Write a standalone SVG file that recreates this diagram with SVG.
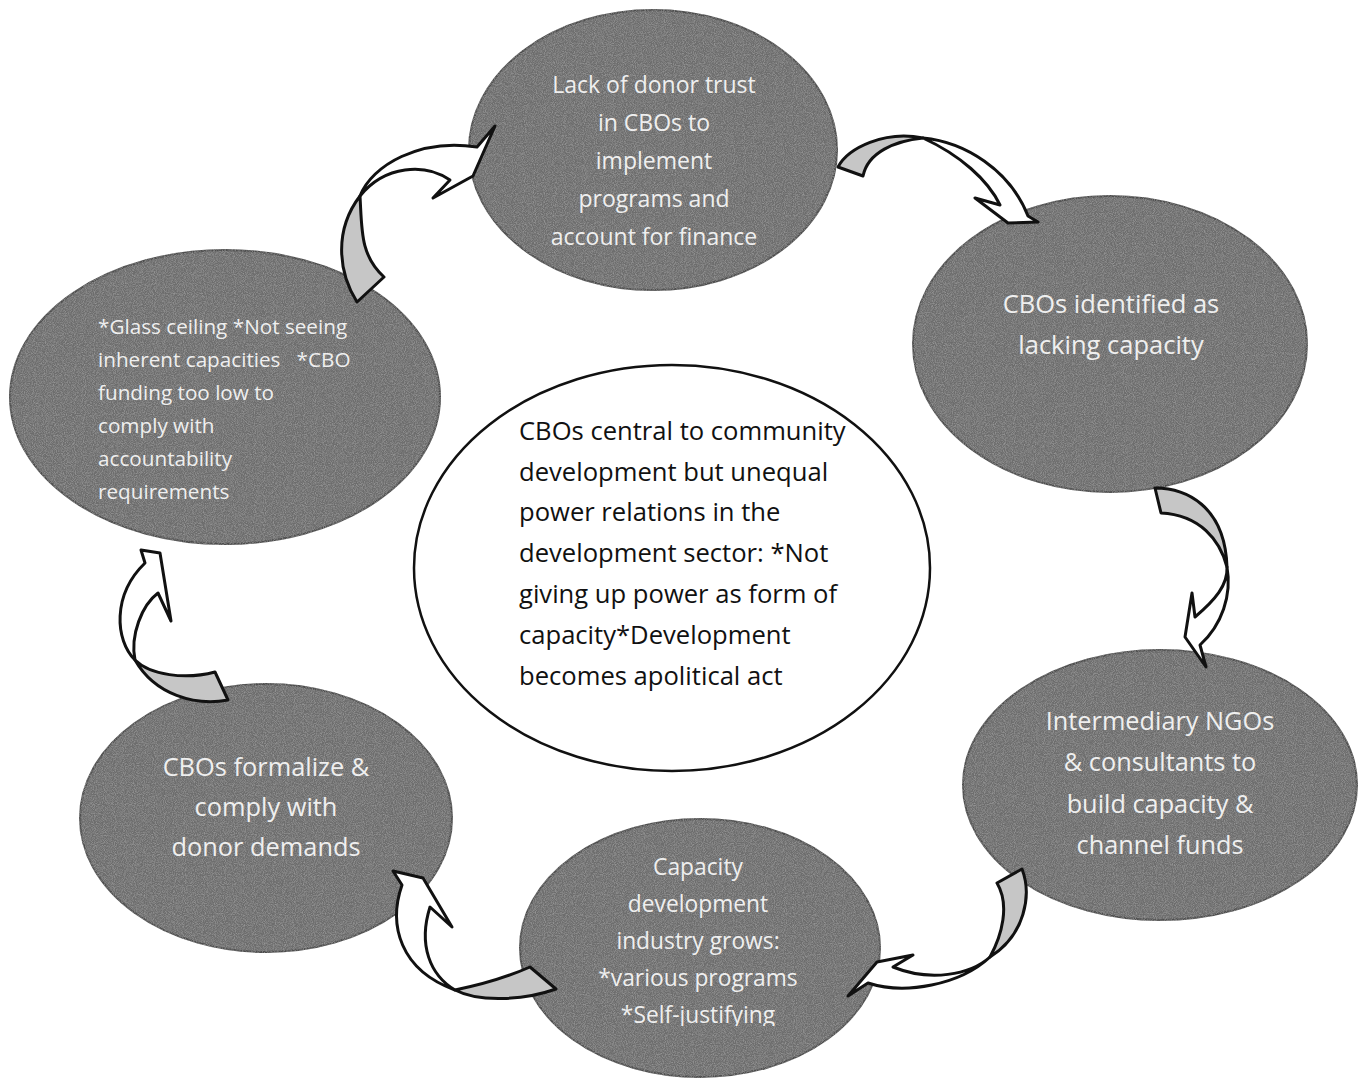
<svg xmlns="http://www.w3.org/2000/svg" width="1363" height="1078" viewBox="0 0 1363 1078">
<style>
.node{fill:#6d6d6d;stroke:#4d4d4d;stroke-width:2;filter:url(#grain)}
.core{fill:#ffffff;stroke:#111111;stroke-width:2.5}
.lt{font-family:"Open Sans","Liberation Sans",sans-serif;fill:#efefef;text-anchor:middle}
.lc{font-family:"Open Sans","Liberation Sans",sans-serif;fill:#111111}
.body{fill:#ffffff;stroke:#111111;stroke-width:3;stroke-linejoin:round}
.tail{fill:#c6c6c6;stroke:#111111;stroke-width:3;stroke-linejoin:round}
</style>
<defs>
<filter id="grain" x="-2%" y="-2%" width="104%" height="104%">
<feTurbulence type="fractalNoise" baseFrequency="1.1" numOctaves="1" seed="4" result="n"/>
<feColorMatrix in="n" type="matrix" values="0 0 0 0 0.55  0 0 0 0 0.55  0 0 0 0 0.55  0.9 0 0 0 -0.35" result="speck"/>
<feComposite in="speck" in2="SourceGraphic" operator="in" result="s2"/>
<feMerge><feMergeNode in="SourceGraphic"/><feMergeNode in="s2"/></feMerge>
</filter>
<clipPath id="cutBottom"><rect x="0" y="0" width="1363" height="1026"/></clipPath>
</defs>
<rect width="1363" height="1078" fill="#ffffff"/>

<g id="node-donor-trust">
<ellipse class="node" cx="653" cy="150" rx="184" ry="140"/>
<text class="lt" font-size="23"><tspan x="654" y="93">Lack of donor trust</tspan><tspan x="654" y="131">in CBOs to</tspan><tspan x="654" y="169">implement</tspan><tspan x="654" y="207">programs and</tspan><tspan x="654" y="245">account for finance</tspan></text>
</g>

<g id="node-lacking-capacity">
<ellipse class="node" cx="1110" cy="344" rx="197" ry="148"/>
<text class="lt" font-size="25.5"><tspan x="1111" y="313">CBOs identified as</tspan><tspan x="1111" y="354">lacking capacity</tspan></text>
</g>

<g id="node-glass-ceiling">
<ellipse class="node" cx="225" cy="397" rx="215" ry="147"/>
<text class="lt" font-size="20.7" style="text-anchor:start;white-space:pre" xml:space="preserve"><tspan x="98" y="334">*Glass ceiling *Not seeing</tspan><tspan x="98" y="367">inherent capacities   *CBO</tspan><tspan x="98" y="400">funding too low to</tspan><tspan x="98" y="433">comply with</tspan><tspan x="98" y="466">accountability</tspan><tspan x="98" y="499">requirements</tspan></text>
</g>

<g id="node-intermediary">
<ellipse class="node" cx="1160" cy="785" rx="197" ry="135"/>
<text class="lt" font-size="25.3"><tspan x="1160" y="730">Intermediary NGOs</tspan><tspan x="1160" y="771">&amp; consultants to</tspan><tspan x="1160" y="813">build capacity &amp;</tspan><tspan x="1160" y="854">channel funds</tspan></text>
</g>

<g id="node-industry">
<ellipse class="node" cx="700" cy="948" rx="180" ry="129"/>
<text class="lt" font-size="22.8"><tspan x="698" y="875">Capacity</tspan><tspan x="698" y="912">development</tspan><tspan x="698" y="949">industry grows:</tspan><tspan x="698" y="986">*various programs</tspan></text>
<text class="lt" font-size="22.8" clip-path="url(#cutBottom)" x="698" y="1023">*Self-justifying</text>
</g>

<g id="node-formalize">
<ellipse class="node" cx="266" cy="818" rx="186" ry="134"/>
<text class="lt" font-size="25.4"><tspan x="266" y="776">CBOs formalize &amp;</tspan><tspan x="266" y="816">comply with</tspan><tspan x="266" y="856">donor demands</tspan></text>
</g>

<g id="node-center">
<ellipse class="core" cx="672" cy="568" rx="258" ry="203"/>
<text class="lc" font-size="25.6"><tspan x="519" y="440">CBOs central to community</tspan><tspan x="519" y="481">development but unequal</tspan><tspan x="519" y="521">power relations in the</tspan><tspan x="519" y="562">development sector: *Not</tspan><tspan x="519" y="603">giving up power as form of</tspan><tspan x="519" y="644">capacity*Development</tspan><tspan x="519" y="685">becomes apolitical act</tspan></text>
</g>

<g id="connectors">
<g id="arrow-glass-to-trust">
<path class="tail" d="M357,302 C338,272 334,230 360,196 C362,230 360,255 384,277 Z"/>
<path class="body" d="M360,196 C372,165 420,138 477,147 L495,126 L473,176 L433,198 L450,180 C425,163 385,165 360,196 Z"/>
</g>
<g id="arrow-trust-to-lacking">
<path class="tail" d="M838,167 C848,148 885,130 923,138 C895,141 868,152 863,176 Z"/>
<path class="body" d="M923,138 C965,142 1010,170 1028,216 L1038,222 L1008,223 L975,198 L1000,205 C988,180 960,155 923,138 Z"/>
</g>
<g id="arrow-lacking-to-intermediary">
<path class="tail" d="M1155,488 C1185,488 1225,505 1227,567 C1220,540 1200,515 1161,513 Z"/>
<path class="body" d="M1227,567 C1232,595 1222,625 1200,645 L1206,667 L1185,637 L1192,593 L1195,617 C1215,600 1228,585 1227,567 Z"/>
</g>
<g id="arrow-intermediary-to-industry">
<path class="tail" d="M1022,869 C1032,895 1025,935 990,957 C1002,935 1010,905 997,883 Z"/>
<path class="body" d="M990,957 C970,975 930,982 893,967 L913,955 L877,962 L848,996 L868,983 C905,995 960,985 990,957 Z"/>
</g>
<g id="arrow-industry-to-formalize">
<path class="tail" d="M455,990 C480,985 505,978 530,967 L556,989 C525,1000 480,1003 455,990 Z"/>
<path class="body" d="M455,990 C400,970 388,925 402,885 L393,871 L423,878 L452,927 L430,907 C418,945 430,975 455,990 Z"/>
</g>
<g id="arrow-formalize-to-glass">
<path class="tail" d="M135,660 C150,675 185,680 215,672 L228,700 C195,706 155,695 135,660 Z"/>
<path class="body" d="M135,660 C115,640 112,595 145,563 L141,550 L160,553 L171,621 L158,593 C142,605 130,635 135,660 Z"/>
</g>
</g>
</svg>
